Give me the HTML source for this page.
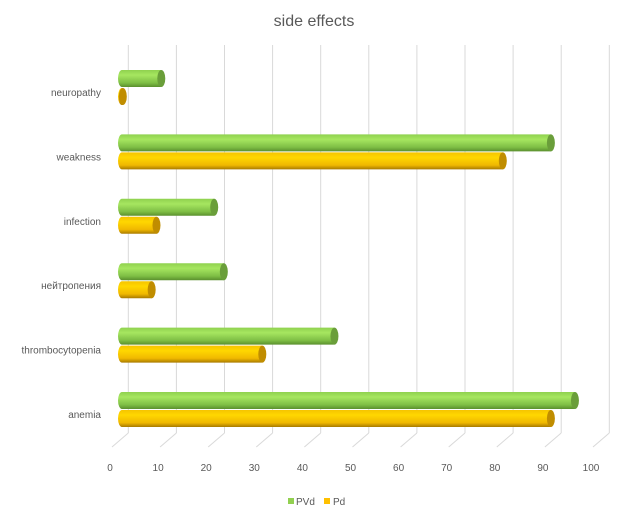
<!DOCTYPE html>
<html><head><meta charset="utf-8"><style>
body{margin:0;background:#fff;}
svg{display:block;font-family:"Liberation Sans","Noto Sans CJK SC",sans-serif;}
</style></head><body>
<svg id="chart" width="628" height="520" viewBox="0 0 628 520" xmlns="http://www.w3.org/2000/svg">
<defs>
<linearGradient id="gG" x1="0" y1="0" x2="0" y2="1"><stop offset="0" stop-color="#8fd14f"/><stop offset="0.3" stop-color="#a6e660"/><stop offset="0.75" stop-color="#7fbf45"/><stop offset="1" stop-color="#5a8f2e"/></linearGradient>
<linearGradient id="gY" x1="0" y1="0" x2="0" y2="1"><stop offset="0" stop-color="#f5c400"/><stop offset="0.3" stop-color="#ffd700"/><stop offset="0.75" stop-color="#f0b800"/><stop offset="1" stop-color="#a87a00"/></linearGradient>
</defs>
<text x="314" y="26" text-anchor="middle" font-size="16" fill="#595959">side effects</text>
<g id="grid"></g><g id="bars"></g><g id="labels"></g>
<g>
<rect x="288" y="498" width="6" height="6" fill="#92d050"/>
<text x="296" y="505" font-size="10" fill="#595959">PVd</text>
<rect x="324" y="498" width="6" height="6" fill="#ffc000"/>
<text x="333" y="505" font-size="10" fill="#595959">Pd</text>
</g>
</svg>
<script>
const categories=["anemia","thrombocytopenia","нейтропения","infection","weakness","neuropathy"];
const pvdValues=[95,45,22,20,90,9];
const pdValues=[90,30,7,8,80,1];
const tickValues=[0,10,20,30,40,50,60,70,80,90,100];
const NS="http://www.w3.org/2000/svg";
const backX=v=>128.3+v*4.81, frontX=v=>112+v*4.81, barX=v=>118+v*4.81;
const catY=i=>410-i*64.4;
function mk(tag,attrs,parent){const e=document.createElementNS(NS,tag);for(const k in attrs)e.setAttribute(k,attrs[k]);parent.appendChild(e);return e;}
const grid=document.getElementById('grid'),bars=document.getElementById('bars'),labels=document.getElementById('labels');
tickValues.forEach(v=>{
  const l=mk('line',{x1:backX(v),y1:45,x2:backX(v),y2:433,stroke:'#d9d9d9','stroke-width':1},grid);
  
  
  const d=mk('line',{x1:backX(v),y1:433,x2:frontX(v),y2:447,stroke:'#d9d9d9','stroke-width':1},grid);
  
  
  const t=mk('text',{x:frontX(v)-2,y:471,'text-anchor':'middle','font-size':10,fill:'#595959'},grid);
  t.textContent=v;
  
  
});
function cyl(v,y,h,fill,cap,name){
  const rx=4,x0=barX(0)+rx,x1=Math.max(barX(v),x0),cy=y+h/2;
  const g=mk('g',{},bars);
  
  
  mk('path',{d:`M${x0},${y} L${x1},${y} L${x1},${y+h} L${x0},${y+h} A${rx},${h/2} 0 0 1 ${x0},${y} Z`,fill:fill},g);
  mk('ellipse',{cx:x1,cy:cy,rx:rx,ry:h/2,fill:cap},g);
}
categories.forEach((c,i)=>{
  const cy=catY(i);
  cyl(pvdValues[i],cy-18,17,'url(#gG)','#6a9e3a','bar-pvd-'+i);
  cyl(pdValues[i],cy,17,'url(#gY)','#c08d00','bar-pd-'+i);
  const t=mk('text',{x:101,y:cy+8,'text-anchor':'end','font-size':10,fill:'#595959'},labels);
  t.textContent=c;
  
  
});
</script>
</body></html>
